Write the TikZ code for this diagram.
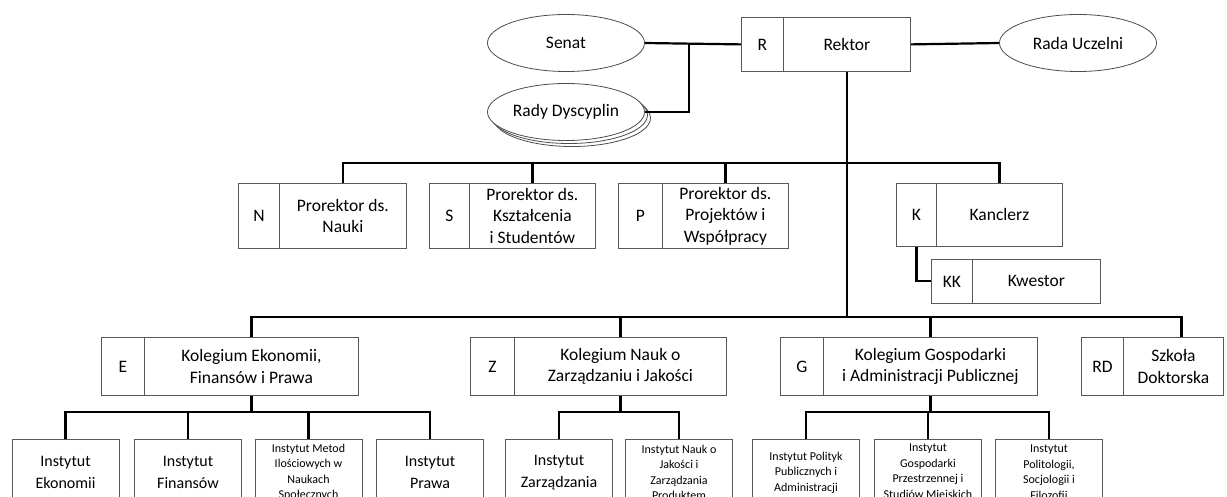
\documentclass[tikz,border=0pt]{standalone}
\usepackage{fontspec}
\setmainfont{Carlito}
\usetikzlibrary{positioning,shapes.geometric}

\begin{document}
\begin{tikzpicture} [
                x=1pt, y=-1pt,
                box/.style={
                    rectangle,
                    draw=black!65,
                    line width=0.8pt,
                    inner sep=0pt,
                    align=center,
                    font=\fontsize{17.5}{21.5}\selectfont
                },
                codebox/.style={
                    box,
                    anchor=north west
                },
                organ/.style={
                    ellipse,
                    draw=black!70,
                    line width=0.8pt,
                    fill=white,
                    minimum width=157pt,
                    minimum height=57pt,
                    inner sep=0pt,
                    font=\fontsize{17.5}{21.5}\selectfont
                },
                inst/.style={
                    box,
                    anchor=north,
                    minimum width=107pt,
                    minimum height=66pt,
                    font=\fontsize{16}{22}\selectfont
                },
                instsmall/.style={
                    inst,
                    font=\fontsize{12}{15.5}\selectfont
                },
                link/.style={
                    line width=2.2pt
                }
            ]
                \useasboundingbox (0,0) rectangle (1227,497);
                \clip (0,0) rectangle (1227,497);

                % bus lines
                \coordinate (pbus) at (0,163);
                \coordinate (kbus) at (0,317);
                \coordinate (ibus) at (0,412);
                \coordinate (senatjoin) at (689,43);

                % top level
                \node[codebox, minimum width=42pt, minimum height=54pt] (r) at (741,17) {R};
                \node[box, minimum width=127pt, minimum height=54pt] (rektor) [right=-\pgflinewidth of r] {Rektor};
                \node[organ] (senat) at (566,43) {Senat};
                \node[organ] (rada) at (1078,43) {Rada Uczelni};
                \node[organ] (rady3) at (572,118) {};
                \node[organ] (rady2) at (569,115) {};
                \node[organ] (rady) at (566,112) {Rady Dyscyplin};

                % prorektorzy i kanclerz
                \node[codebox, minimum width=41pt, minimum height=65pt] (n) at (238,183) {N};
                \node[box, minimum width=127pt, minimum height=65pt] (nauki) [right=-\pgflinewidth of n] {Prorektor ds.\\Nauki};
                \node[codebox, minimum width=40pt, minimum height=65pt] (s) at (429,183) {S};
                \node[box, minimum width=126pt, minimum height=65pt] (studenci) [right=-\pgflinewidth of s] {Prorektor ds.\\Kształcenia\\i Studentów};
                \node[codebox, minimum width=44pt, minimum height=65pt] (p) at (618,183) {P};
                \node[box, minimum width=126pt, minimum height=65pt] (projekty) [right=-\pgflinewidth of p] {Prorektor ds.\\Projektów i\\Współpracy};
                \node[codebox, minimum width=40pt, minimum height=63pt] (k) at (896,183) {K};
                \node[box, minimum width=126pt, minimum height=63pt] (kanclerz) [right=-\pgflinewidth of k] {Kanclerz};
                \node[codebox, minimum width=41pt, minimum height=44pt] (kk) at (931,259) {KK};
                \node[box, minimum width=128pt, minimum height=44pt] (kwestor) [right=-\pgflinewidth of kk] {Kwestor};

                % kolegia
                \node[codebox, minimum width=43pt, minimum height=58pt] (e) at (101,337) {E};
                \node[box, minimum width=214pt, minimum height=58pt] (ekon) [right=-\pgflinewidth of e] {Kolegium Ekonomii,\\Finansów i Prawa};
                \node[codebox, minimum width=44pt, minimum height=58pt] (z) at (470,337) {Z};
                \node[box, minimum width=212pt, minimum height=58pt] (zarz) [right=-\pgflinewidth of z] {Kolegium Nauk o\\Zarządzaniu i Jakości};
                \node[codebox, minimum width=43pt, minimum height=58pt] (g) at (780,337) {G};
                \node[box, minimum width=214pt, minimum height=58pt] (gosp) [right=-\pgflinewidth of g] {Kolegium Gospodarki\\i Administracji Publicznej};
                \node[codebox, minimum width=42pt, minimum height=58pt] (rd) at (1081,337) {RD};
                \node[box, minimum width=100pt, minimum height=58pt] (szkola) [right=-\pgflinewidth of rd] {Szkoła\\Doktorska};

                % instytuty
                \node[inst] (iekon) at (65.5,439) {Instytut\\Ekonomii};
                \node[inst] (ifin) at (188,439) {Instytut\\Finansów};
                \node[instsmall] (imetod) at (308.5,439) {Instytut Metod\\Ilościowych w\\Naukach\\Społecznych};
                \node[inst] (ipraw) at (430,439) {Instytut\\Prawa};
                \node[inst] (izarz) at (559,439) {Instytut\\Zarządzania};
                \node[instsmall] (ijak) at (679,439) {Instytut Nauk o\\Jakości i\\Zarządzania\\Produktem};
                \node[instsmall] (ipolit) at (806,439) {Instytut Polityk\\Publicznych i\\Administracji};
                \node[instsmall] (igosp) at (928,439) {Instytut\\Gospodarki\\Przestrzennej i\\Studiów Miejskich};
                \node[instsmall] (ifil) at (1049,439) {Instytut\\Politologii,\\Socjologii i\\Filozofii};

                % connectors
                \draw[link] (senat.east) -- (r.west);
                \draw[link] (rady.east) -| (senatjoin);
                \draw[link] (rektor.east) -- (rada.west);
                \draw[link] (rektor.south) -- (rektor.south |- kbus);
                \draw[link] (nauki.north) -- (nauki.north |- pbus) -- (kanclerz.north |- pbus) -- (kanclerz.north);
                \draw[link] (studenci.north) -- (studenci.north |- pbus);
                \draw[link] (projekty.north) -- (projekty.north |- pbus);
                \draw[link] (k.south) |- (kk.west);
                \draw[link] (ekon.north) -- (ekon.north |- kbus) -- ([xshift=8pt]szkola.north |- kbus) -- ([xshift=8pt]szkola.north);
                \draw[link] (zarz.north) -- (zarz.north |- kbus);
                \draw[link] (gosp.north) -- (gosp.north |- kbus);
                \draw[link] (ekon.south) -- (ekon.south |- ibus);
                \draw[link] (iekon.north) -- (iekon.north |- ibus) -- (ipraw.north |- ibus) -- (ipraw.north);
                \draw[link] (ifin.north) -- (ifin.north |- ibus);
                \draw[link] (imetod.north) -- (imetod.north |- ibus);
                \draw[link] (zarz.south) -- (zarz.south |- ibus);
                \draw[link] (izarz.north) -- (izarz.north |- ibus) -- (ijak.north |- ibus) -- (ijak.north);
                \draw[link] (gosp.south) -- (gosp.south |- ibus);
                \draw[link] (ipolit.north) -- (ipolit.north |- ibus) -- (ifil.north |- ibus) -- (ifil.north);
                \draw[link] (igosp.north) -- (igosp.north |- ibus);
            \end{tikzpicture}
\end{document}
